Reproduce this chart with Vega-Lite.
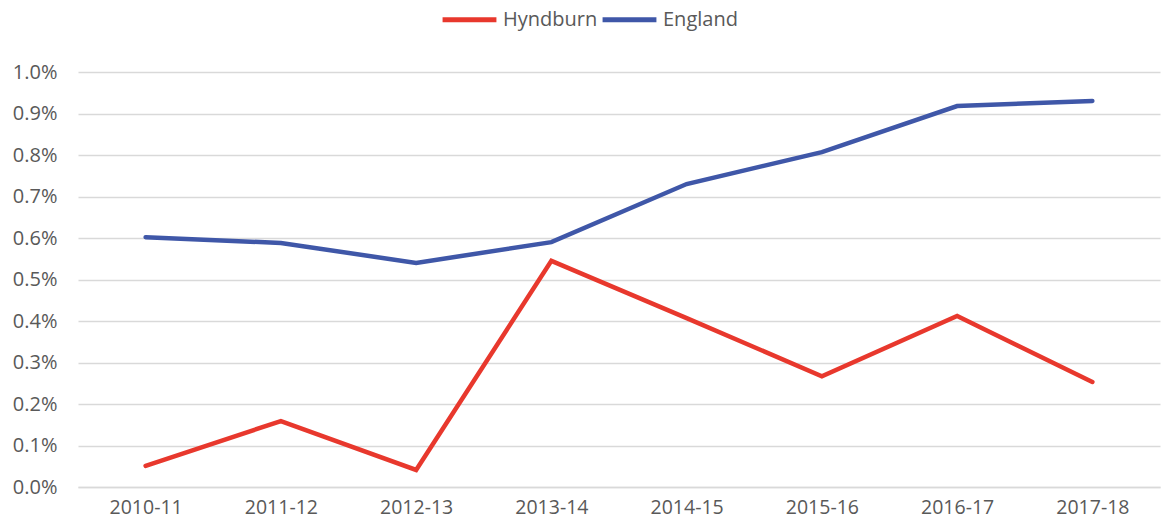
{
  "$schema": "https://vega.github.io/schema/vega-lite/v6.json",
  "autosize": {"type": "none"},
  "width": 1082,
  "height": 415,
  "padding": {"left": 78, "top": 72, "right": 11, "bottom": 43},
  "background": "white",
  "config": {
    "view": {"stroke": null}
  },
  "data": {
    "values": [
      {"year": "2010-11", "area": "Hyndburn", "v": 0.00051},
      {"year": "2011-12", "area": "Hyndburn", "v": 0.00159},
      {"year": "2012-13", "area": "Hyndburn", "v": 0.00041},
      {"year": "2013-14", "area": "Hyndburn", "v": 0.00545},
      {"year": "2014-15", "area": "Hyndburn", "v": 0.00407},
      {"year": "2015-16", "area": "Hyndburn", "v": 0.00267},
      {"year": "2016-17", "area": "Hyndburn", "v": 0.00412},
      {"year": "2017-18", "area": "Hyndburn", "v": 0.00253},
      {"year": "2010-11", "area": "England", "v": 0.00602},
      {"year": "2011-12", "area": "England", "v": 0.00588},
      {"year": "2012-13", "area": "England", "v": 0.00540},
      {"year": "2013-14", "area": "England", "v": 0.00590},
      {"year": "2014-15", "area": "England", "v": 0.00730},
      {"year": "2015-16", "area": "England", "v": 0.00807},
      {"year": "2016-17", "area": "England", "v": 0.00918},
      {"year": "2017-18", "area": "England", "v": 0.00930}
    ]
  },
  "mark": {"type": "line", "strokeWidth": 4.5, "strokeCap": "round"},
  "encoding": {
    "x": {
      "field": "year", "type": "ordinal", "title": null,
      "scale": {"type": "point", "padding": 0.5},
      "axis": {"labelAngle": 0, "labelFont": "Open Sans", "labelFontSize": 19.5, "labelColor": "#595959", "domainColor": "#D9D9D9", "domainWidth": 1.3, "ticks": false, "labelPadding": 11, "grid": false}
    },
    "y": {
      "field": "v", "type": "quantitative", "title": null,
      "scale": {"domain": [0, 0.01], "nice": false},
      "axis": {"format": ".1%", "values": [0,0.001,0.002,0.003,0.004,0.005,0.006,0.007,0.008,0.009,0.01], "labelOverlap": false, "labelFont": "Open Sans", "labelFontSize": 20, "labelColor": "#595959", "gridColor": "#D9D9D9", "gridWidth": 1.3, "domain": false, "ticks": false, "labelPadding": 21}
    },
    "color": {
      "field": "area", "type": "nominal", "title": null,
      "scale": {"domain": ["Hyndburn", "England"], "range": ["#E8382D", "#3F57A8"]},
      "legend": {"orient": "none", "legendX": 362, "legendY": -82, "direction": "horizontal", "labelFont": "Open Sans", "labelFontSize": 20, "labelColor": "#595959", "symbolType": "stroke", "symbolSize": 2900, "symbolStrokeWidth": 5, "columnPadding": -6, "labelOffset": 4}
    }
  }
}
